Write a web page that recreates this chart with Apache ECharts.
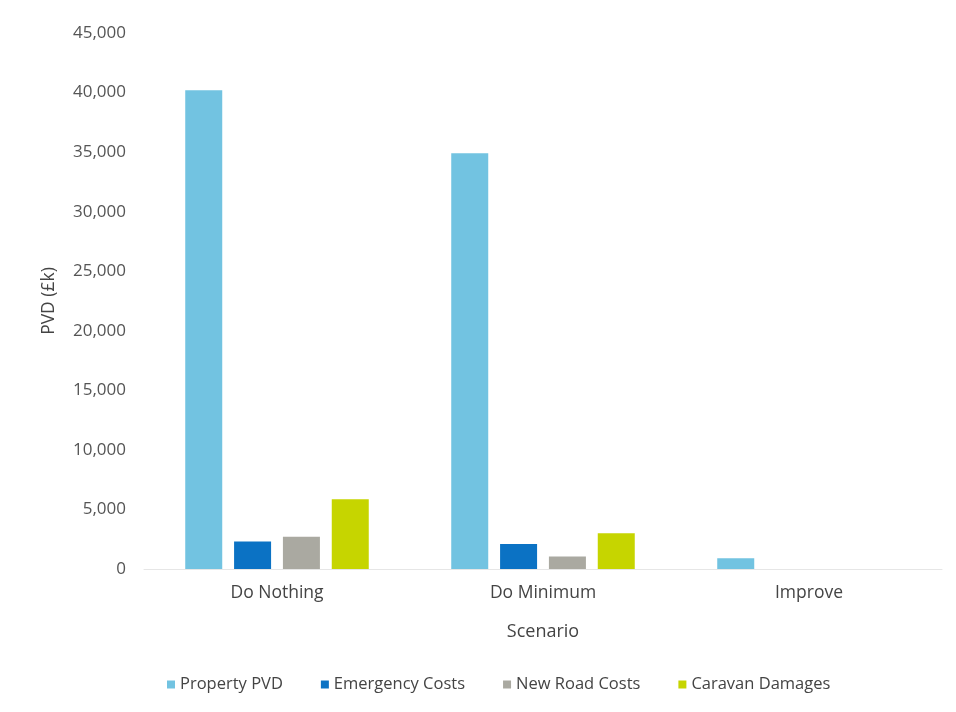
<!DOCTYPE html>
<html><head><meta charset="utf-8">
<script src="https://cdn.jsdelivr.net/npm/echarts@6/dist/echarts.min.js"></script>
<style>html,body{margin:0;padding:0;background:#fff}#c{width:956px;height:712px}</style>
</head><body><div id="c"></div>
<script>
const categories = ['Do Nothing', 'Do Minimum', 'Improve'];
const propertyPVD = [40200, 34900, 900];
const emergencyCosts = [2300, 2100, 0];
const newRoadCosts = [2700, 1050, 0];
const caravanDamages = [5850, 3000, 0];
const yTicks = {min: 0, max: 45000, interval: 5000};

const font = 'Open Sans';
const chart = echarts.init(document.getElementById('c'));
function s(name, data, color) {
  return {name, type: 'bar', data, itemStyle: {color}, barWidth: 37, barGap: '32%'};
}
chart.setOption({
  animation: false,
  backgroundColor: '#fff',
  textStyle: {fontFamily: font},
  grid: {left: 144, right: 14, top: 33, bottom: 143},
  legend: {
    bottom: 14, left: 162, itemWidth: 8, itemHeight: 8, itemGap: 38,
    icon: 'rect',
    textStyle: {fontFamily: font, fontSize: 16.5, color: '#444'},
    data: ['Property PVD', 'Emergency Costs', 'New Road Costs', 'Caravan Damages']
  },
  xAxis: {
    type: 'category', data: categories,
    name: 'Scenario', nameLocation: 'middle', nameGap: 54,
    nameTextStyle: {fontFamily: font, fontSize: 18, color: '#444'},
    axisLine: {lineStyle: {color: '#e6e6e6'}},
    axisTick: {show: false},
    axisLabel: {fontFamily: font, fontSize: 17.5, color: '#444', margin: 15}
  },
  yAxis: {
    type: 'value', min: yTicks.min, max: yTicks.max, interval: yTicks.interval,
    name: 'PVD (£k)', nameLocation: 'middle', nameGap: 86, nameRotate: 90,
    nameTextStyle: {fontFamily: font, fontSize: 17.5, color: '#444'},
    axisLine: {show: false}, axisTick: {show: false},
    splitLine: {show: false},
    axisLabel: {fontFamily: font, fontSize: 17, color: '#555', margin: 18,
      formatter: v => v.toLocaleString('en-GB')}
  },
  series: [
    s('Property PVD', propertyPVD, '#72c3e1'),
    s('Emergency Costs', emergencyCosts, '#0b72c4'),
    s('New Road Costs', newRoadCosts, '#aaa9a1'),
    s('Caravan Damages', caravanDamages, '#c6d500')
  ]
});
</script></body></html>
